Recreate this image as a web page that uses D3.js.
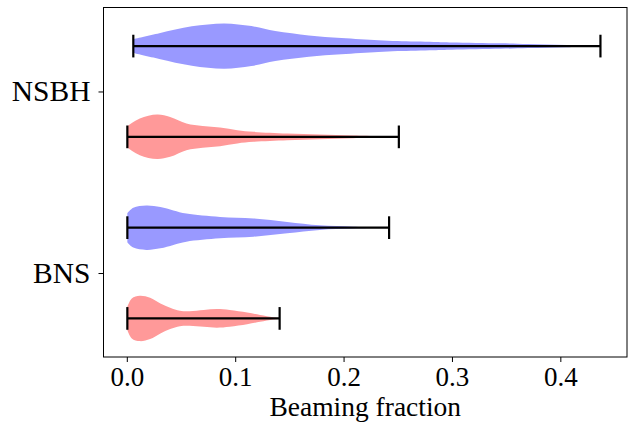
<!doctype html>
<html>
<head>
    <meta charset="UTF-8">
    <title>Beaming fraction violins</title>
    <script src="https://d3js.org/d3.v7.min.js"></script>
    <style>
        body { margin: 0; background: #fff; }
        text { font-family: "Liberation Serif", "DejaVu Serif", serif; fill: #000; }
        .tick line { stroke: #000; stroke-width: 1; }
    </style>
</head>
<body>
<script>
    // groups on the y axis
    var groups = ["NSBH", "BNS"];
    var groupPos = [1.5, 3.5];

    // one entry per violin, top to bottom
    var violinPos = [1, 2, 3, 4];
    var violinColor = ["#9999ff", "#ff9999", "#9999ff", "#ff9999"];
    var violinMin = [0.006, 0.0005, 0.0005, 0.0005];
    var violinMax = [0.437, 0.251, 0.242, 0.141];

    // density outline (relative half-width)
    var nsbhBlueX = [0.006, 0.03, 0.06, 0.09, 0.115, 0.137, 0.168, 0.198, 0.232, 0.25, 0.283, 0.30, 0.345, 0.37, 0.406, 0.437];
    var nsbhBlueW = [0.31, 0.57, 0.87, 1.0, 0.88, 0.66, 0.47, 0.36, 0.26, 0.22, 0.18, 0.16, 0.12, 0.09, 0.05, 0.02];

    var nsbhRedX = [0.0005, 0.012, 0.028, 0.040, 0.055, 0.070, 0.086, 0.102, 0.117, 0.148, 0.178, 0.209, 0.251];
    var nsbhRedW = [0.47, 0.81, 0.98, 0.88, 0.59, 0.48, 0.41, 0.29, 0.22, 0.15, 0.10, 0.06, 0.01];

    var bnsBlueX = [0.0005, 0.006, 0.018, 0.031, 0.043, 0.055, 0.086, 0.117, 0.148, 0.178, 0.209, 0.242];
    var bnsBlueW = [0.64, 0.88, 0.98, 0.91, 0.76, 0.62, 0.47, 0.40, 0.25, 0.10, 0.04, 0.01];

    var bnsRedX = [0.0005, 0.0046, 0.012, 0.0215, 0.031, 0.040, 0.049, 0.058, 0.071, 0.083, 0.095, 0.111, 0.123, 0.135, 0.141];
    var bnsRedW = [0.51, 0.88, 1.0, 0.91, 0.66, 0.47, 0.34, 0.32, 0.37, 0.41, 0.37, 0.26, 0.15, 0.05, 0.01];

    var xTicks = [0.0, 0.1, 0.2, 0.3, 0.4];

    var outlinesX = [nsbhBlueX, nsbhRedX, bnsBlueX, bnsRedX];
    var outlinesW = [nsbhBlueW, nsbhRedW, bnsBlueW, bnsRedW];

    var W = 644, H = 424;
    var margin = { left: 103.5, top: 7.5, right: 17, bottom: 67 };
    var width = W - margin.left - margin.right,
        height = H - margin.top - margin.bottom;

    var svg = d3.select("body").append("svg")
        .attr("width", W)
        .attr("height", H);

    var g = svg.append("g")
        .attr("transform", "translate(" + margin.left + "," + margin.top + ")");

    var x = d3.scaleLinear()
        .domain([-0.0215, 0.4615])
        .range([0, width]);

    var y = d3.scaleLinear()
        .domain([0.575, 4.425])
        .range([0, height]);

    var halfW = y(1.25) - y(1);   // violin half width (0.25 of a slot)

    violinPos.forEach(function (p, i) {
        var pts = outlinesX[i].map(function (v, j) { return { v: v, w: outlinesW[i][j] }; });
        var cy = y(p);

        var area = d3.area()
            .x(function (d) { return x(d.v); })
            .y0(function (d) { return cy - d.w * halfW; })
            .y1(function (d) { return cy + d.w * halfW; })
            .curve(d3.curveCatmullRom.alpha(0.5));

        g.append("path")
            .datum(pts)
            .attr("d", area)
            .style("fill", violinColor[i])
            .style("stroke", "none");

        // range bar with caps
        g.append("line")
            .attr("x1", x(violinMin[i])).attr("x2", x(violinMax[i]))
            .attr("y1", cy).attr("y2", cy)
            .style("stroke", "#000").style("stroke-width", 2.2);

        [violinMin[i], violinMax[i]].forEach(function (v) {
            g.append("line")
                .attr("x1", x(v)).attr("x2", x(v))
                .attr("y1", cy - halfW / 2).attr("y2", cy + halfW / 2)
                .style("stroke", "#000").style("stroke-width", 2.2);
        });
    });

    // axes
    var xAxis = g.append("g")
        .attr("transform", "translate(0," + height + ")")
        .call(d3.axisBottom(x).tickValues(xTicks).tickFormat(d3.format(".1f"))
            .tickSize(5).tickSizeOuter(0).tickPadding(5));
    xAxis.select(".domain").remove();
    xAxis.selectAll("text").style("font-size", "27px").style("font-family", null);

    var yAxis = g.append("g")
        .call(d3.axisLeft(y).tickValues(groupPos)
            .tickFormat(function (d, i) { return groups[i]; })
            .tickSize(5).tickSizeOuter(0).tickPadding(8));
    yAxis.select(".domain").remove();
    yAxis.selectAll("text").style("font-size", "29.5px").style("font-family", null);

    g.append("rect")
        .attr("width", width)
        .attr("height", height)
        .style("fill", "none")
        .style("stroke", "#000")
        .style("stroke-width", 1);

    svg.append("text")
        .attr("x", margin.left + width / 2)
        .attr("y", 416)
        .attr("text-anchor", "middle")
        .style("font-size", "27.5px")
        .text("Beaming fraction");
</script>
</body>
</html>
